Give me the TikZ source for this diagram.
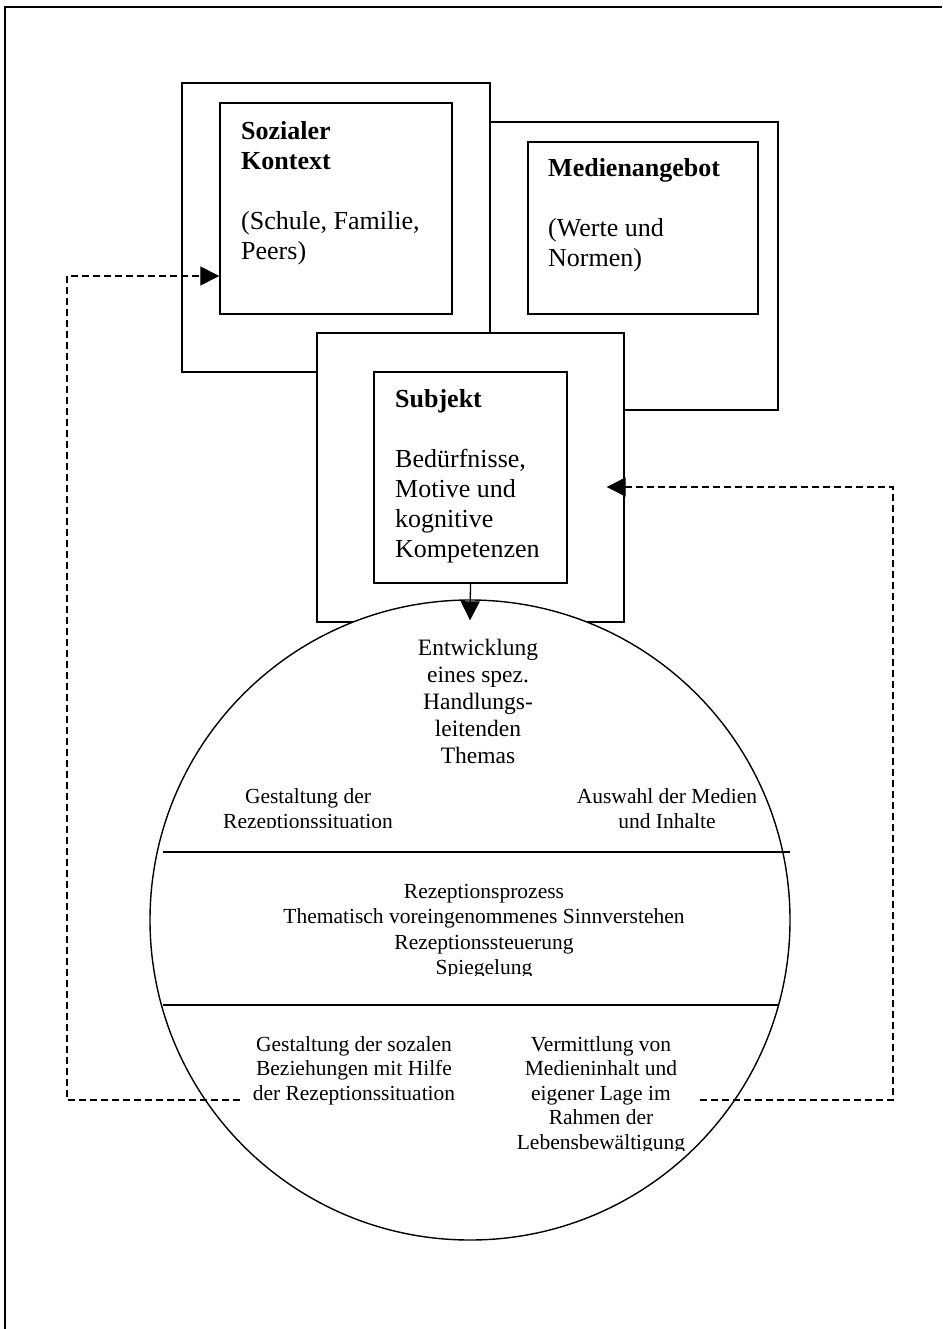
\documentclass[tikz,border=0pt]{standalone}
\usepackage{fontspec}
\setmainfont{Liberation Serif}
\usetikzlibrary{positioning,arrows.meta,calc}

\begin{document}
\begin{tikzpicture}[
  x=1pt,y=-1pt,
  frame/.style={draw,line width=1.4pt,fill=white,inner sep=0pt},
  txt/.style  ={inner sep=0pt,align=left,font=\fontsize{26}{30}\selectfont},
  ctxt/.style ={inner sep=0pt,align=center,font=\fontsize{21.5}{25.5}\selectfont},
  feed/.style ={line width=1.3pt,dash pattern=on 7pt off 4pt},
  arrow/.style={-{Triangle[length=19pt,width=19pt]},line width=1.3pt}
]
\useasboundingbox (0,0) rectangle (942,1329);
\draw[line width=1.6pt] (5,1329) -- (5,7) -- (942,7);
% Three overlapping context boxes, each with an inner panel (text sits on its last baseline)
\node[frame,minimum width=288pt,minimum height=288pt] (medo)  at (634,266)     {};
\node[frame,minimum width=230pt,minimum height=172pt] (medi)  at (643,228)     {};
\node[frame,minimum width=308pt,minimum height=289pt] (sozo)  at (336,227.5)   {};
\node[frame,minimum width=232pt,minimum height=211pt] (sozi)  at (336,208.5)   {};
\node[frame,minimum width=307pt,minimum height=289pt] (subjo) at (470.5,477.5) {};
\node[frame,minimum width=193pt,minimum height=211pt] (subji) at (470.5,477.5) {};
\node[txt,anchor=base west] (sozt)  at (241,260) {\textbf{Sozialer}\\\textbf{Kontext}\\[30pt](Schule, Familie,\\Peers)};
\node[txt,anchor=base west] (medt)  at (548,267) {\textbf{Medienangebot}\\[30pt](Werte und\\Normen)};
\node[txt,anchor=base west] (subjt) at (395,557) {\textbf{Subjekt}\\[30pt]Bedürfnisse,\\Motive und\\kognitive\\Kompetenzen};
% Reception circle with three bands
\node[frame,circle,minimum size=640pt] (circ) at (470,920) {};
\draw[line width=1.4pt] (163,852)  -- (790,852);
\draw[line width=1.4pt] (163,1005) -- (778,1005);
\node[ctxt,font=\fontsize{23.5}{27}\selectfont,anchor=base] (them) at (478,763) {Entwicklung\\eines spez.\\Handlungs-\\leitenden\\Themas};
\begin{scope}
  \clip (150,770) rectangle (800,827);
  \node[ctxt,anchor=base] (gest) at (308,828.5) {Gestaltung der\\Rezeptionssituation};
  \node[ctxt,anchor=base] (ausw) at (667,828.5) {Auswahl der Medien\\und Inhalte};
\end{scope}
\begin{scope}
  \clip (150,870) rectangle (800,975);
  \node[ctxt,anchor=base] (proz) at (484,974.5) {Rezeptionsprozess\\Thematisch voreingenommenes Sinnverstehen\\Rezeptionssteuerung\\Spiegelung};
\end{scope}
\node[ctxt,font=\fontsize{21.5}{24.5}\selectfont,anchor=base] (bez) at (354,1100) {Gestaltung der sozalen\\Beziehungen mit Hilfe\\der Rezeptionssituation};
\begin{scope}
  \clip (480,1020) rectangle (720,1150);
  \node[ctxt,font=\fontsize{21.5}{24.5}\selectfont,anchor=base] (verm) at (601,1149) {Vermittlung von\\Medieninhalt und\\eigener Lage im\\Rahmen der\\Lebensbewältigung};
\end{scope}
% Feedback loops and the main arrow
\coordinate (lfoot) at (240,1100);
\coordinate (lbend) at (67,1100);
\coordinate (rfoot) at (700,1100);
\coordinate (rbend) at (893,1100);
\draw[feed,arrow] (lfoot) -- (lbend) |- ([yshift=-67.5pt]sozi.west);
\draw[feed,arrow] (rfoot) -- (rbend) |- ([xshift=-18pt,yshift=-9.5pt]subjo.east);
\draw[arrow] (subji.south) -- ([yshift=-21pt]circ.north);
\end{tikzpicture}
\end{document}
